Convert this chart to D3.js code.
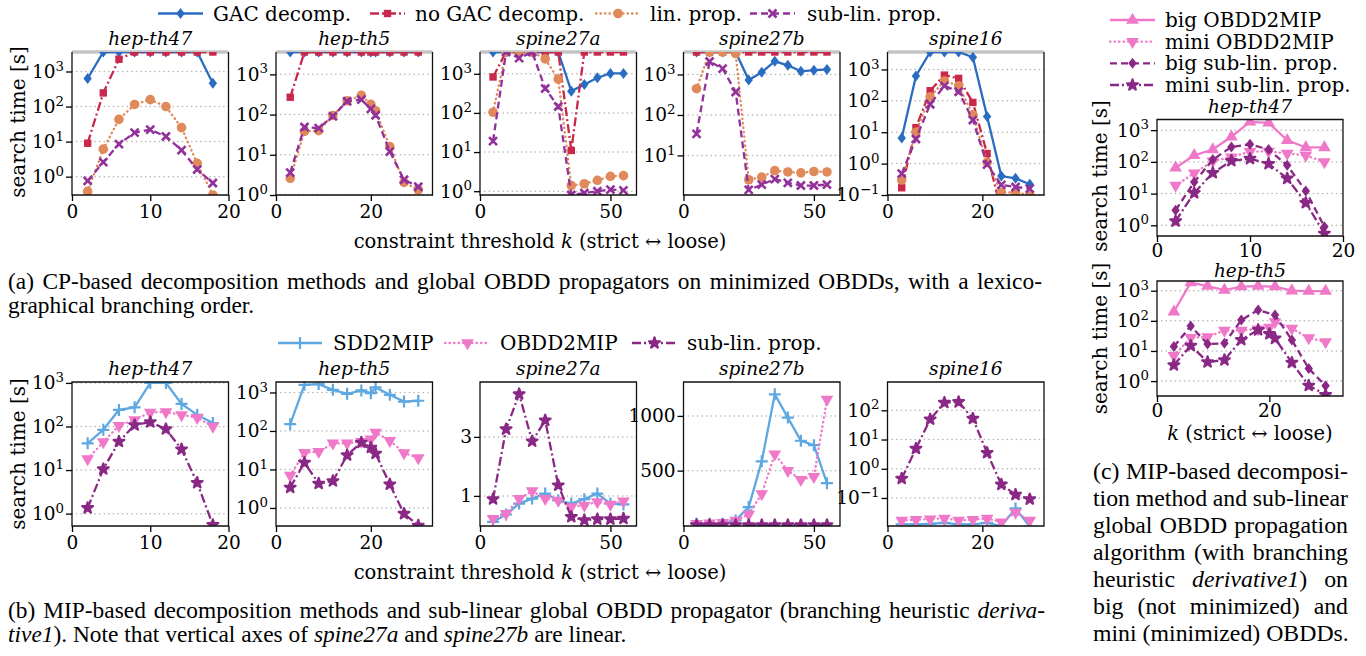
<!DOCTYPE html>
<html>
<head>
<meta charset="utf-8">
<script src="https://cdn.jsdelivr.net/npm/d3@7"></script>
<style>
  body { margin: 0; background: #fff; }
  svg { display: block; }
</style>
</head>
<body>
<svg id="fig" width="1366" height="656"></svg>
<script>
// ---- data ----
const TIMEOUT = 3600;
const kHep47 = [2, 4, 6, 8, 10, 12, 14, 16, 18];
const kHep5 = [3, 6, 9, 12, 15, 18, 20, 21, 24, 27, 30];
const kHep5Big = [3, 6, 9, 12, 15, 18, 21, 24, 27, 30];
const kSpine27 = [5, 10, 15, 20, 25, 30, 35, 40, 45, 50, 55];
const kSpine16 = [3, 6, 9, 12, 15, 18, 21, 24, 27, 30];

// (a) CP-based decompositions and global propagators
const aGacHep47 = [630, 3600, 3600, 3600, 3600, 3600, 3600, 3600, 460];
const aNoGacHep47 = [9, 245, 2240, 3600, 3600, 3600, 3600, 3600, 3600];
const aLinHep47 = [0.38, 6.1, 43, 115, 158, 100, 25, 2.4, 0.3];
const aSubHep47 = [0.76, 2.6, 8.5, 18, 22, 14, 5.7, 1.6, 0.66];

const aGacHep5 = [3600, 3600, 3600, 3600, 3600, 3600, 3600, 3600, 3600, 3600, 3600];
const aNoGacHep5 = [270, 3600, 3600, 3600, 3600, 3600, 3600, 3600, 3600, 3600, 3600];
const aLinHep5 = [2.6, 38, 40, 95, 220, 300, 180, 125, 16, 2.05, 1.35];
const aSubHep5 = [3.6, 49, 46, 91, 215, 235, 138, 96, 12, 2.4, 1.6];

const aGacS27a = [3600, 3600, 3600, 3600, 3600, 3600, 360, 535, 790, 1020, 1020];
const aNoGacS27a = [830, 3600, 3600, 3600, 3600, 3600, 11, 3600, 3600, 3600, 3600];
const aLinS27a = [104, 3600, 3600, 3600, 2400, 730, 1.4, 1.55, 1.9, 2.4, 2.5];
const aSubS27a = [19, 3600, 2500, 3600, 420, 146, 0.8, 0.9, 1.0, 1.1, 1.05];

const aGacS27b = [3600, 3600, 3600, 3600, 730, 1140, 2120, 1690, 1200, 1280, 1330];
const aNoGacS27b = [3600, 3600, 3600, 3600, 3600, 3600, 3600, 3600, 3600, 3600, 3600];
const aLinS27b = [445, 3600, 3600, 3300, 2.5, 2.9, 4.2, 3.9, 3.7, 4.0, 3.9];
const aSubS27b = [34, 2100, 1400, 370, 1.4, 1.9, 2.6, 2.1, 1.8, 1.8, 1.9];

const aGacS16 = [6.5, 620, 3600, 3600, 3600, 2450, 32, 0.4, 0.34, 0.22];
const aNoGacS16 = [0.17, 14, 210, 660, 520, 89, 2.1, 0.03, 0.03, 0.03];
const aLinS16 = [0.3, 10, 134, 430, 300, 36, 1.1, 0.12, 0.12, 0.1];
const aSubS16 = [0.48, 6.1, 78, 300, 195, 24.6, 0.93, 0.21, 0.18, 0.16];

// (b) MIP-based decompositions and sub-linear propagator
const bSddHep47 = [41, 84, 240, 275, 1000, 1000, 330, 185, 120];
const bObddHep47 = [18, 44, 105, 142, 210, 215, 185, 160, 100];
const bSubHep47 = [1.35, 10.5, 45, 108, 126, 87, 30, 5.1, 0.55];

const bSddHep5 = [150, 1580, 1650, 1170, 920, 1130, 960, 1350, 870, 580, 610];
const bObddHep5 = [7, 27.5, 29, 48, 48, 53, 61, 92, 56, 27, 20];
const bSubHep5 = [3.4, 15, 4.3, 5, 23.5, 50, 37, 26, 4.1, 0.71, 0.35];

const bSddS27a = [0.12, 0.37, 0.74, 0.91, 1.08, 0.85, 0.74, 0.89, 1.08, 0.74, 0.71];
const bObddS27a = [0.23, 0.4, 0.91, 1.17, 0.91, 0.85, 0.63, 0.68, 0.8, 0.71, 0.82];
const bSubS27a = [0.89, 3.26, 4.45, 2.85, 3.56, 1.36, 0.29, 0.18, 0.21, 0.21, 0.23];

const bSddS27b = [15, 15, 15, 45, 167, 585, 1197, 985, 773, 733, 385];
const bObddS27b = [15, 20, 24, 45, 100, 288, 650, 500, 418, 445, 1150];
const bSubS27b = [3, 3, 3, 2, 2, 2, 2, 2, 2, 2, 2];

const bSddS16 = [0.0126, 0.0126, 0.013, 0.014, 0.0126, 0.0126, 0.014, 0.011, 0.044, 0.0105];
const bObddS16 = [0.017, 0.018, 0.019, 0.02, 0.017, 0.018, 0.02, 0.015, 0.032, 0.017];
const bSubS16 = [0.46, 4.9, 49, 183, 193, 52, 3.5, 0.29, 0.13, 0.091];

// (c) big vs mini OBDDs
const cBigObddHep47 = [65, 160, 245, 620, 1830, 1700, 480, 285, 285];
const cBigSubHep47 = [3, 23, 118, 295, 360, 245, 78, 12, 0.9];
const cBigObddHep5 = [200, 1850, 1430, 1050, 1360, 1430, 1360, 1000, 975, 975];
const cBigSubHep5 = [14, 67, 17, 18, 106, 230, 155, 23, 2.6, 0.7];

const legendA = ["GAC decomp.", "no GAC decomp.", "lin. prop.", "sub-lin. prop."];
const legendB = ["SDD2MIP", "OBDD2MIP", "sub-lin. prop."];
const legendC = ["big OBDD2MIP", "mini OBDD2MIP", "big sub-lin. prop.", "mini sub-lin. prop."];

// ---- styles ----
const SERIF = "'DejaVu Serif', serif";
const TIMES = "'Liberation Serif', 'Times New Roman', serif";
const TICK_FS = 18.5;

const styles = {
  gac:     {color: "#2a6cc2", dash: null, marker: "diamond"},
  noGac:   {color: "#c9284a", dash: "9,3,2,3", marker: "square"},
  lin:     {color: "#e0895a", dash: "0.5,4", cap: "round", marker: "circle"},
  subA:    {color: "#93319b", dash: "7,4", marker: "x"},
  sdd:     {color: "#5ea8e2", dash: null, marker: "plus"},
  obdd:    {color: "#ef79c8", dash: "0.5,4", cap: "round", marker: "triDown"},
  subB:    {color: "#8a2886", dash: "9,3,2,3", marker: "star"},
  bigObdd: {color: "#ef79c8", dash: null, marker: "triUp"},
  bigSub:  {color: "#8a2886", dash: "7,4", marker: "diamond"}
};

const svg = d3.select("#fig");
let clipN = 0;

function drawMarker(g, st, x, y) {
  const m = st.marker, c = st.color;
  let p;
  if (m === "circle") {
    p = g.append("circle").attr("r", 4.8).attr("fill", c);
  } else if (m === "square") {
    p = g.append("rect").attr("x", -3.7).attr("y", -3.7).attr("width", 7.4).attr("height", 7.4).attr("fill", c);
  } else if (m === "diamond") {
    p = g.append("path").attr("d", "M0,-5.5L4.2,0L0,5.5L-4.2,0Z").attr("fill", c);
  } else if (m === "x") {
    p = g.append("path").attr("d", "M-4,-4L4,4M-4,4L4,-4").attr("stroke", c).attr("stroke-width", 2.6).attr("fill", "none");
  } else if (m === "plus") {
    p = g.append("path").attr("d", "M-6,0H6M0,-6V6").attr("stroke", c).attr("stroke-width", 2.2).attr("fill", "none");
  } else if (m === "triDown" || m === "triUp") {
    p = g.append("path").attr("d", d3.symbol(d3.symbolTriangle, 70)())
      .attr("fill", c);
    if (m === "triDown") {
      p.attr("transform", `translate(${x},${y}) rotate(180)`);
      return;
    }
  } else if (m === "star") {
    p = g.append("path").attr("d", d3.symbol(d3.symbolStar, 36)())
      .attr("fill", c).attr("stroke", c).attr("stroke-width", 2.2).attr("stroke-linejoin", "round");
  }
  p.attr("transform", `translate(${x},${y})`);
}

function styledLine(g, st, pts) {
  g.append("path")
    .attr("d", d3.line()(pts))
    .attr("fill", "none")
    .attr("stroke", st.color)
    .attr("stroke-width", 2.3)
    .attr("stroke-dasharray", st.dash)
    .attr("stroke-linecap", st.cap || "butt");
}

function drawPlot(o) {
  const g = svg.append("g").attr("transform", `translate(${o.left},${o.top})`);
  const x = d3.scaleLinear().domain(o.xDomain).range([0, o.width]);
  const y = (o.log ? d3.scaleLog() : d3.scaleLinear()).domain(o.yDomain).range([o.height, 0]);
  const id = "clip" + (clipN++);
  g.append("clipPath").attr("id", id)
    .append("rect").attr("width", o.width).attr("height", o.height);

  // dotted grid
  g.append("g").selectAll("line").data(o.yTicks).join("line")
    .attr("x1", 0).attr("x2", o.width)
    .attr("y1", d => y(d)).attr("y2", d => y(d))
    .attr("stroke", "#b5b5b5").attr("stroke-width", 1.5)
    .attr("stroke-linecap", "round").attr("stroke-dasharray", "0.2,4.4");

  if (o.timeout) {
    g.append("line")
      .attr("x1", 0).attr("x2", o.width)
      .attr("y1", y(o.timeout)).attr("y2", y(o.timeout))
      .attr("stroke", "#c4c4c4").attr("stroke-width", 3.4);
  }

  const area = g.append("g").attr("clip-path", `url(#${id})`);
  o.series.forEach(s => {
    const st = styles[s.style];
    const pts = s.v.map((v, i) => [x(s.k[i]), y(v)]);
    styledLine(area, st, pts);
    pts.forEach(p => drawMarker(area, st, p[0], p[1]));
  });

  g.append("path")
    .attr("d", o.timeout ? `M0,0V${o.height}H${o.width}V0` : `M0,0V${o.height}H${o.width}V0Z`)
    .attr("fill", "none").attr("stroke", "#111").attr("stroke-width", 1.3);

  const ya = g.append("g")
    .call(d3.axisLeft(y).tickValues(o.yTicks).tickSize(6).tickPadding(2)
      .tickFormat(o.log ? () => "" : d3.format("d")));
  ya.select(".domain").remove();
  ya.attr("font-family", SERIF).attr("font-size", TICK_FS);
  ya.selectAll("line").attr("stroke-width", 1.3);
  if (o.log) {
    ya.selectAll(".tick text").each(function (d) {
      const e = Math.round(Math.log10(d));
      const t = d3.select(this);
      t.append("tspan").text("10");
      t.append("tspan").attr("dy", "-0.55em").attr("font-size", "0.72em")
        .text(String(e).replace("-", "\u2212"));
    });
  }

  const xa = g.append("g").attr("transform", `translate(0,${o.height})`)
    .call(d3.axisBottom(x).tickValues(o.xTicks).tickSize(6).tickPadding(o.xPad || 4));
  xa.select(".domain").remove();
  xa.attr("font-family", SERIF).attr("font-size", TICK_FS);
  xa.selectAll("line").attr("stroke-width", 1.3);

  svg.append("text")
    .attr("x", o.left + o.width / 2).attr("y", o.titleY)
    .attr("text-anchor", "middle")
    .attr("font-family", SERIF).attr("font-style", "italic").attr("font-size", 18.5)
    .text(o.title);
}

// ---- layout ----
const colLeft = [72, 276, 480, 683.5, 887.5];
const colW = 156.5;

const rowA = [
  {title: "hep-th47", k: kHep47, xDomain: [0, 20], xTicks: [0, 10, 20], yDomain: [0.3, TIMEOUT], yTicks: [1, 10, 100, 1000],
    v: [aGacHep47, aNoGacHep47, aLinHep47, aSubHep47]},
  {title: "hep-th5", k: kHep5, xDomain: [0, 33], xTicks: [0, 20], yDomain: [1, TIMEOUT], yTicks: [1, 10, 100, 1000],
    v: [aGacHep5, aNoGacHep5, aLinHep5, aSubHep5]},
  {title: "spine27a", k: kSpine27, xDomain: [0, 60], xTicks: [0, 50], yDomain: [0.8, TIMEOUT], yTicks: [1, 10, 100, 1000],
    v: [aGacS27a, aNoGacS27a, aLinS27a, aSubS27a]},
  {title: "spine27b", k: kSpine27, xDomain: [0, 60], xTicks: [0, 50], yDomain: [1.05, TIMEOUT], yTicks: [10, 100, 1000],
    v: [aGacS27b, aNoGacS27b, aLinS27b, aSubS27b]},
  {title: "spine16", k: kSpine16, xDomain: [0, 33], xTicks: [0, 20], yDomain: [0.1, TIMEOUT], yTicks: [0.1, 1, 10, 100, 1000],
    v: [aGacS16, aNoGacS16, aLinS16, aSubS16]}
];
const keysA = ["gac", "noGac", "lin", "subA"];

rowA.forEach((p, i) => drawPlot({
  left: colLeft[i], top: 52, width: colW, height: 143, titleY: 45,
  xDomain: p.xDomain, xTicks: p.xTicks, yDomain: p.yDomain, yTicks: p.yTicks,
  log: true, timeout: TIMEOUT, title: p.title,
  series: p.v.map((v, j) => ({k: p.k, v: v, style: keysA[j]}))
}));

const rowB = [
  {title: "hep-th47", k: kHep47, xDomain: [0, 20], xTicks: [0, 10, 20], log: true, yDomain: [0.52, 1050], yTicks: [1, 10, 100, 1000],
    v: [bSddHep47, bObddHep47, bSubHep47]},
  {title: "hep-th5", k: kHep5, xDomain: [0, 33], xTicks: [0, 20], log: true, yDomain: [0.34, 1870], yTicks: [1, 10, 100, 1000],
    v: [bSddHep5, bObddHep5, bSubHep5]},
  {title: "spine27a", k: kSpine27, xDomain: [0, 60], xTicks: [0, 50], log: false, yDomain: [-0.02, 4.86], yTicks: [1, 3],
    v: [bSddS27a, bObddS27a, bSubS27a]},
  {title: "spine27b", k: kSpine27, xDomain: [0, 60], xTicks: [0, 50], log: false, yDomain: [-6, 1310], yTicks: [500, 1000],
    v: [bSddS27b, bObddS27b, bSubS27b]},
  {title: "spine16", k: kSpine16, xDomain: [0, 33], xTicks: [0, 20], log: true, yDomain: [0.011, 930], yTicks: [0.1, 1, 10, 100],
    v: [bSddS16, bObddS16, bSubS16]}
];
const keysB = ["sdd", "obdd", "subB"];

rowB.forEach((p, i) => drawPlot({
  left: colLeft[i], top: 382, width: colW, height: 144, titleY: 375,
  xDomain: p.xDomain, xTicks: p.xTicks, yDomain: p.yDomain, yTicks: p.yTicks,
  log: p.log, title: p.title,
  series: p.v.map((v, j) => ({k: p.k, v: v, style: keysB[j]}))
}));

drawPlot({
  left: 1157, top: 119.5, width: 186, height: 116.5, titleY: 113, xPad: 2,
  xDomain: [0, 20], xTicks: [0, 10, 20], yDomain: [0.46, 2170], yTicks: [1, 10, 100, 1000],
  log: true, title: "hep-th47",
  series: [
    {k: kHep47, v: cBigObddHep47, style: "bigObdd"},
    {k: kHep47, v: bObddHep47, style: "obdd"},
    {k: kHep47, v: cBigSubHep47, style: "bigSub"},
    {k: kHep47, v: bSubHep47, style: "subB"}
  ]
});
drawPlot({
  left: 1157, top: 281, width: 186, height: 115, titleY: 277, xPad: 2,
  xDomain: [0, 33.1], xTicks: [0, 20], yDomain: [0.32, 2100], yTicks: [1, 10, 100, 1000],
  log: true, title: "hep-th5",
  series: [
    {k: kHep5Big, v: cBigObddHep5, style: "bigObdd"},
    {k: kHep5, v: bObddHep5, style: "obdd"},
    {k: kHep5Big, v: cBigSubHep5, style: "bigSub"},
    {k: kHep5, v: bSubHep5, style: "subB"}
  ]
});

// ---- axis labels ----
function yLabel(x, y) {
  svg.append("text")
    .attr("transform", `translate(${x},${y}) rotate(-90)`)
    .attr("text-anchor", "middle")
    .attr("font-family", SERIF).attr("font-size", 20)
    .text("search time [s]");
}
yLabel(25, 122);
yLabel(25, 454);
yLabel(1107, 176);
yLabel(1107, 338.5);

function kLabel(x, y, prefix) {
  const t = svg.append("text")
    .attr("x", x).attr("y", y).attr("text-anchor", "middle")
    .attr("font-family", SERIF).attr("font-size", 19.5);
  if (prefix) t.append("tspan").text(prefix);
  t.append("tspan").attr("font-style", "italic").text("k");
  t.append("tspan").text(" (strict \u2194 loose)");
}
kLabel(540, 248, "constraint threshold ");
kLabel(540, 579, "constraint threshold ");
kLabel(1250, 440, null);

// ---- legends ----
function legendItem(x1, x2, y, key, label, tx, size) {
  const g = svg.append("g");
  const st = styles[key];
  styledLine(g, st, [[x1, y], [x2, y]]);
  drawMarker(g, st, (x1 + x2) / 2, y);
  svg.append("text").attr("x", tx).attr("y", y + 7)
    .attr("font-family", SERIF).attr("font-size", size).text(label);
}
const legAx = [[158, 203, 213], [370, 405, 415], [596, 640, 650], [750, 795, 807]];
legendA.forEach((l, i) => legendItem(legAx[i][0], legAx[i][1], 13.5, keysA[i], l, legAx[i][2], 20));

const legBx = [[278, 322, 333], [445, 490, 500], [632, 677, 687]];
legendB.forEach((l, i) => legendItem(legBx[i][0], legBx[i][1], 343, keysB[i], l, legBx[i][2], 20));

const keysC = ["bigObdd", "obdd", "bigSub", "subB"];
const legCy = [20, 41.7, 63.3, 85];
legendC.forEach((l, i) => legendItem(1110, 1155, legCy[i], keysC[i], l, 1165, 20));

// ---- captions ----
function captionLine(x, y, parts, size, width) {
  const t = svg.append("text").attr("x", x).attr("y", y)
    .attr("font-family", TIMES).attr("font-size", size);
  parts.forEach(p => {
    const s = t.append("tspan").text(p[0]);
    if (p[1]) s.attr("font-style", "italic");
  });
  if (width) {
    const len = t.node().getComputedTextLength();
    const spaces = (t.node().textContent.match(/ /g) || []).length;
    if (spaces) t.attr("word-spacing", (width - len) / spaces);
  }
}
captionLine(8, 289, [["(a) CP-based decomposition methods and global OBDD propagators on minimized OBDDs, with a lexico-", false]], 23.4, 1034);
captionLine(8, 313, [["graphical branching order.", false]], 23.4, null);
captionLine(8, 618, [["(b) MIP-based decomposition methods and sub-linear global OBDD propagator (branching heuristic ", false], ["deriva-", true]], 23.4, 1037);
captionLine(8, 642, [["tive1", true], ["). Note that vertical axes of ", false], ["spine27a", true], [" and ", false], ["spine27b", true], [" are linear.", false]], 23.4, null);

const capC = [
  [["(c) MIP-based decomposi-", false]],
  [["tion method and sub-linear", false]],
  [["global OBDD propagation", false]],
  [["algorithm (with branching", false]],
  [["heuristic ", false], ["derivative1", true], [") on", false]],
  [["big (not minimized) and", false]],
  [["mini (minimized) OBDDs.", false]]
];
capC.forEach((parts, i) => captionLine(1093, 479 + i * 27, parts, 23.8, i < capC.length - 1 ? 255 : null));
</script>
</body>
</html>
